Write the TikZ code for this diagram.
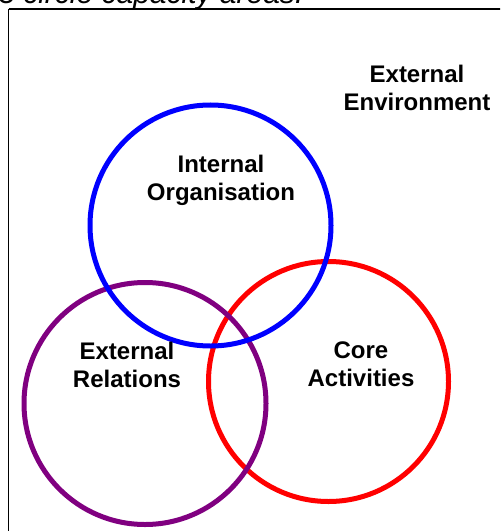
\documentclass[tikz,border=0pt]{standalone}
\usepackage{fontspec}
\setmainfont{Liberation Sans}
\begin{document}
\begin{tikzpicture}[x=0.75pt,y=-0.75pt,
  ring/.style={circle,draw,line width=3.75pt,inner sep=0pt},
  lbl/.style={font=\fontsize{18}{21}\selectfont\bfseries,align=center,inner sep=0pt}]
\useasboundingbox (0,0) rectangle (500,531);
\begin{scope}
\clip (0,0) rectangle (500,531);
% heading, partly above the frame
\node[font=\fontsize{22.5}{27}\selectfont\itshape,anchor=base west,inner sep=0pt] (title) at (-2,3.5) {3 circle capacity areas:};
% frame
\draw[line width=1.5pt] (8.5,9) -- (520,9);
\draw[line width=1.1pt] (8.5,9) -- (8.5,540);
% the three capacity areas
\node[ring,draw={rgb,255:red,255;green,0;blue,0},minimum size=180pt] (core) at (328.5,381.5) {};
\node[ring,draw={rgb,255:red,128;green,0;blue,128},minimum size=181.5pt] (relations) at (145,403.5) {};
\node[ring,draw={rgb,255:red,0;green,0;blue,255},minimum size=180.75pt] (internal) at (210.5,225.5) {};
% labels
\node[lbl] (tinternal) at (221,180.5) {Internal\\Organisation};
\node[lbl] (trelations) at (127,364.5) {External\\Relations};
\node[lbl] (tcore) at (361,364.5) {Core\\Activities};
\node[lbl] (tenv) at (417,87.5) {External\\Environment};
\end{scope}
\end{tikzpicture}
\end{document}
